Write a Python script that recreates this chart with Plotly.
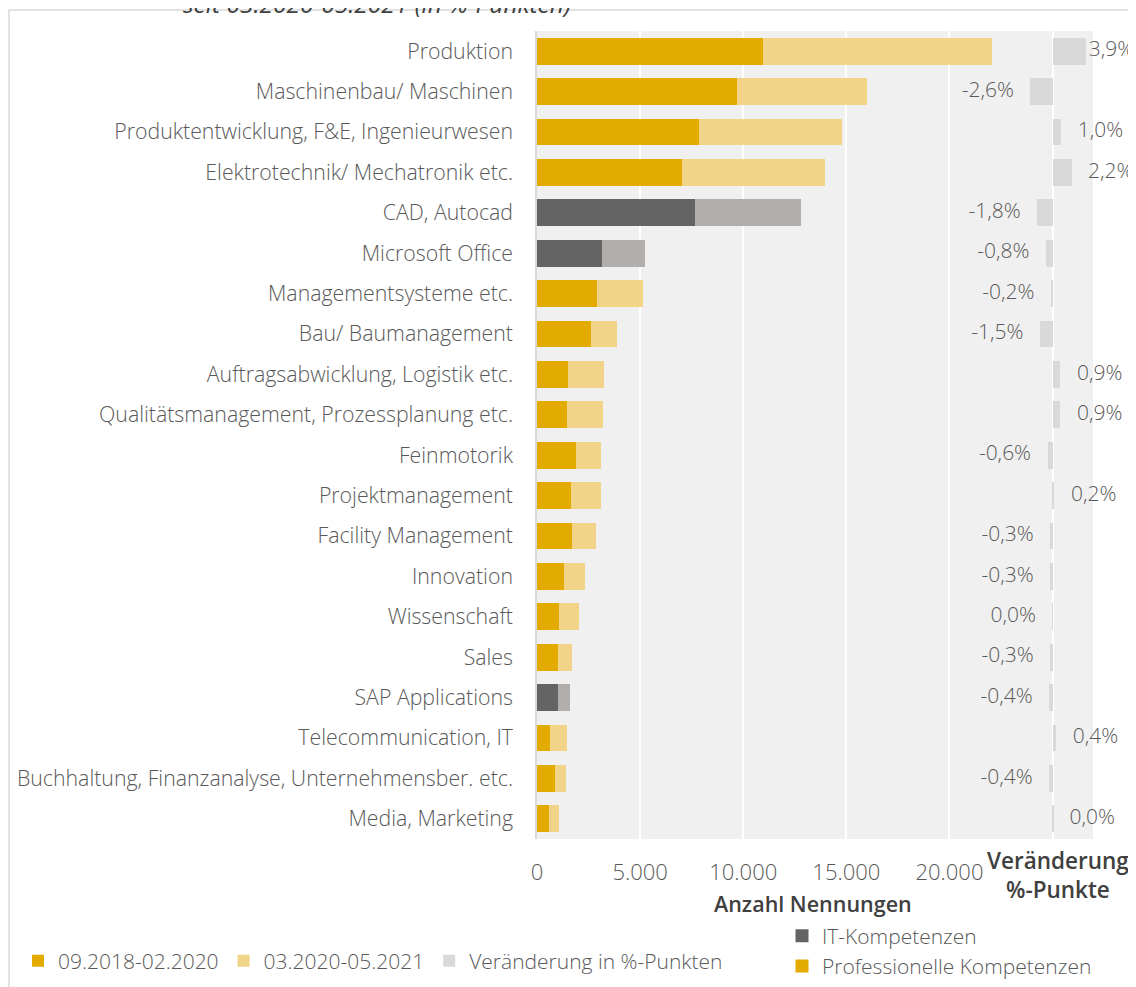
import plotly.graph_objects as go

# ---------------- data ----------------
categories = [
    "Produktion",
    "Maschinenbau/ Maschinen",
    "Produktentwicklung, F&E, Ingenieurwesen",
    "Elektrotechnik/ Mechatronik etc.",
    "CAD, Autocad",
    "Microsoft Office",
    "Managementsysteme etc.",
    "Bau/ Baumanagement",
    "Auftragsabwicklung, Logistik etc.",
    "Qualitätsmanagement, Prozessplanung etc.",
    "Feinmotorik",
    "Projektmanagement",
    "Facility Management",
    "Innovation",
    "Wissenschaft",
    "Sales",
    "SAP Applications",
    "Telecommunication, IT",
    "Buchhaltung, Finanzanalyse, Unternehmensber. etc.",
    "Media, Marketing",
]
competence_type = ["Prof", "Prof", "Prof", "Prof", "IT", "IT", "Prof", "Prof", "Prof", "Prof",
                   "Prof", "Prof", "Prof", "Prof", "Prof", "Prof", "IT", "Prof", "Prof", "Prof"]
period_2018_2020 = [10960, 9690, 7860, 7020, 7650, 3140, 2890, 2630, 1480, 1460,
                    1870, 1630, 1690, 1330, 1090, 1000, 1000, 610, 850, 570]
period_2020_2021 = [11080, 6330, 6930, 6950, 5150, 2100, 2250, 1260, 1750, 1730,
                    1230, 1470, 1150, 990, 950, 690, 590, 830, 540, 480]
change_pp = [3.9, -2.6, 1.0, 2.2, -1.8, -0.8, -0.2, -1.5, 0.9, 0.9,
             -0.6, 0.2, -0.3, -0.3, -0.04, -0.3, -0.4, 0.4, -0.4, 0.04]
x_tick_values = [0, 5000, 10000, 15000, 20000, 25000]

series_names = ["09.2018-02.2020", "03.2020-05.2021", "Veränderung in %-Punkten"]
group_names = ["IT-Kompetenzen", "Professionelle Kompetenzen"]

# ---------------- styles ----------------
GOLD_DARK = "#E3AA00"
GOLD_LIGHT = "#F2D488"
GREY_DARK = "#646464"
GREY_LIGHT = "#B2AEAC"
DELTA = "#D9D9D9"
BG = "#F0F0F0"
TXT = "#595959"
TXT_DARK = "#404040"
FONT = "Open Sans"

# the page body has an 8px margin, so the figure is drawn 8px right/down
OFFSET = 8
W, H = 1136 - OFFSET, 987 - OFFSET
# plot area, in screen pixels
SCR_L, SCR_R, SCR_T, SCR_B = 537, 1093, 31, 839
PLOT_L, PLOT_R, PLOT_T, PLOT_B = SCR_L - OFFSET, SCR_R - OFFSET, SCR_T - OFFSET, SCR_B - OFFSET


def px_x(px):
    """screen x pixel -> paper coordinate"""
    return (px - OFFSET - PLOT_L) / (PLOT_R - PLOT_L)


def px_y(py):
    """screen y pixel -> paper coordinate"""
    return (PLOT_B - (py - OFFSET)) / (PLOT_B - PLOT_T)


c1 = [GREY_DARK if t == "IT" else GOLD_DARK for t in competence_type]
c2 = [GREY_LIGHT if t == "IT" else GOLD_LIGHT for t in competence_type]


def fmt_pct(v):
    r = round(v, 1)
    s = f"{abs(r):.1f}%".replace(".", ",")
    return s if r >= 0 or abs(r) < 0.05 else "-" + s


LABEL_GAP = 1.93      # in %-points, distance between delta bar end and its label
LABEL_MAX = 4.2       # right-most label anchor
delta_labels = [fmt_pct(v) for v in change_pp]
label_x = [min(v + LABEL_GAP, LABEL_MAX) if v >= 0 else v - LABEL_GAP for v in change_pp]
label_pos = ["middle right" if v >= 0 else "middle left" for v in change_pp]

fig = go.Figure()
fig.add_trace(go.Bar(
    y=categories, x=period_2018_2020, orientation="h", name=series_names[0],
    marker=dict(color=c1, line=dict(width=0)), legend="legend",
))
fig.add_trace(go.Bar(
    y=categories, x=period_2020_2021, orientation="h", name=series_names[1],
    marker=dict(color=c2, line=dict(width=0)), legend="legend",
))
fig.add_trace(go.Bar(
    y=categories, x=change_pp, orientation="h", name=series_names[2],
    xaxis="x2", yaxis="y",
    marker=dict(color=DELTA, line=dict(width=0)), legend="legend",
))
fig.add_trace(go.Scatter(
    y=categories, x=label_x, mode="text", text=delta_labels, textposition=label_pos,
    xaxis="x2", yaxis="y", showlegend=False, cliponaxis=False,
    textfont=dict(family=FONT, size=21, color=TXT, weight=300), hoverinfo="skip",
))
for name, col in zip(group_names, [GREY_DARK, GOLD_DARK]):
    fig.add_trace(go.Scatter(
        x=[None], y=[None], mode="markers", name=name, legend="legend2",
        marker=dict(symbol="square", size=13, color=col),
    ))

tick_text = [("" if v == 25000 else f"{v:,}".replace(",", ".")) for v in x_tick_values]

fig.update_layout(
    width=W, height=H,
    margin=dict(l=PLOT_L, r=W - PLOT_R, t=PLOT_T, b=H - PLOT_B, autoexpand=False, pad=0),
    plot_bgcolor=BG, paper_bgcolor="white",
    barmode="stack", bargap=0.34,
    font=dict(family=FONT, color=TXT),
    xaxis=dict(
        range=[0, 26960], tickvals=x_tick_values, ticktext=tick_text,
        showgrid=True, gridcolor="white", gridwidth=1.5, zeroline=False, showline=False,
        ticks="", tickfont=dict(family=FONT, size=22, color=TXT, weight=300),
        ticklabelstandoff=18, fixedrange=True,
    ),
    xaxis2=dict(overlaying="x", range=[-60.23, 4.70], visible=False, fixedrange=True),
    yaxis=dict(
        categoryorder="array", categoryarray=categories, range=[19.5, -0.5],
        showline=True, linecolor="#D9D9D9", linewidth=1.5, ticks="",
        showgrid=False, zeroline=False,
        tickfont=dict(family=FONT, size=21.3, color=TXT, weight=300),
        ticklabelstandoff=18, automargin=False, fixedrange=True,
    ),
    legend=dict(
        orientation="h", xref="paper", yref="paper",
        x=px_x(18), y=px_y(961), xanchor="left", yanchor="middle",
        font=dict(family=FONT, size=21, color=TXT, weight=300),
        bgcolor="rgba(0,0,0,0)", traceorder="normal",
    ),
    legend2=dict(
        orientation="v", xref="paper", yref="paper",
        x=px_x(782), y=px_y(951), xanchor="left", yanchor="middle",
        font=dict(family=FONT, size=21, color=TXT, weight=300),
        bgcolor="rgba(0,0,0,0)", tracegroupgap=0, itemsizing="trace",
    ),
    shapes=[dict(
        type="rect", xref="paper", yref="paper",
        x0=px_x(9), x1=px_x(1160), y0=px_y(1010), y1=px_y(10),
        line=dict(color="#D9D9D9", width=1.5), fillcolor="rgba(0,0,0,0)", layer="above",
    )],
    annotations=[
        dict(text="<i>seit 03.2020-05.2021 (in %-Punkten)</i>", xref="paper", yref="paper",
             x=px_x(377), y=px_y(3.3), xanchor="center", yanchor="middle", showarrow=False,
             font=dict(family=FONT, size=24.5, color=TXT_DARK)),
        dict(text="Anzahl Nennungen", xref="paper", yref="paper",
             x=px_x(813), y=px_y(903), xanchor="center", yanchor="middle", showarrow=False,
             font=dict(family=FONT, size=21.5, color=TXT_DARK, weight=600)),
        dict(text="Veränderung<br>%-Punkte", xref="paper", yref="paper",
             x=px_x(1058), y=px_y(875), xanchor="center", yanchor="middle", showarrow=False,
             font=dict(family=FONT, size=22.5, color=TXT_DARK, weight=600)),
    ],
)

fig.write_html("out.html")
